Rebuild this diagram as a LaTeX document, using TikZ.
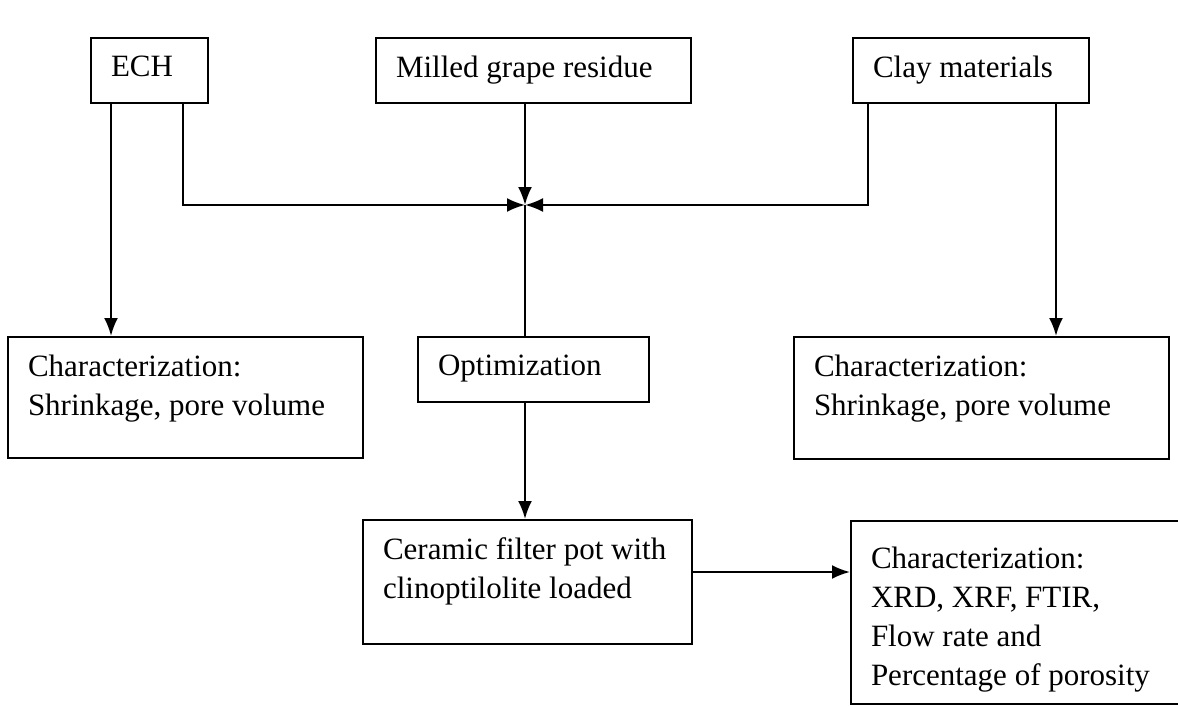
\documentclass[tikz,border=0pt]{standalone}
\usepackage{fontspec}
\setmainfont{Liberation Serif}
\usetikzlibrary{arrows.meta}

\newcommand{\boxtxt}[3]{\parbox[c][#2][t]{#1}{#3}}

\begin{document}
\begin{tikzpicture}[x=1pt,y=-1pt,
  box/.style={draw, line width=2pt, inner xsep=20pt, inner ysep=18pt, align=left,
    font=\fontsize{31}{39}\selectfont},
  flow/.style={line width=2.2pt, -{Latex[length=18pt,width=14pt]}},
  link/.style={line width=2.2pt}]
\useasboundingbox (0,0) rectangle (1178,706);

\node[box] (ech)   at (149.5,70.5)  {\boxtxt{77pt}{29pt}{ECH}};
\node[box] (mill)  at (533.5,70.5)  {\boxtxt{275pt}{29pt}{Milled grape residue}};
\node[box] (clay)  at (971,70.5)    {\boxtxt{196pt}{29pt}{Clay materials}};
\node[box] (charl) at (185.5,397.5) {\boxtxt{315pt}{85pt}{Characterization:\\Shrinkage, pore volume}};
\node[box] (opt)   at (533.5,369.5) {\boxtxt{191pt}{29pt}{Optimization}};
\node[box] (charr) at (981.5,398)   {\boxtxt{335pt}{86pt}{Characterization:\\Shrinkage, pore volume}};
\node[box] (pot)   at (527.5,582)   {\boxtxt{289pt}{88pt}{Ceramic filter pot with\\clinoptilolite loaded}};
\node[box, inner ysep=26pt] (charb) at (1028,612.5)
  {\boxtxt{314pt}{131pt}{Characterization:\\XRD, XRF, FTIR,\\Flow rate and\\Percentage of porosity}};

\coordinate (join) at (525,205);

\draw[flow] ([xshift=21pt]ech.south west) -- ([xshift=21pt]ech.south west |- charl.north);
\draw[flow] ([xshift=-26pt]ech.south east) |- (join);
\draw[flow] (mill.south -| join) -- (join);
\draw[flow] ([xshift=16pt]clay.south west) |- (join);
\draw[flow] ([xshift=-34pt]clay.south east) -- ([xshift=-34pt]clay.south east |- charr.north);
\draw[link] (join) -- (opt.north -| join);
\draw[flow] (opt.south -| join) -- (pot.north -| join);
\coordinate (potout) at ([yshift=10pt]pot.east);
\draw[flow] (potout) -- (potout -| charb.west);
\end{tikzpicture}
\end{document}
